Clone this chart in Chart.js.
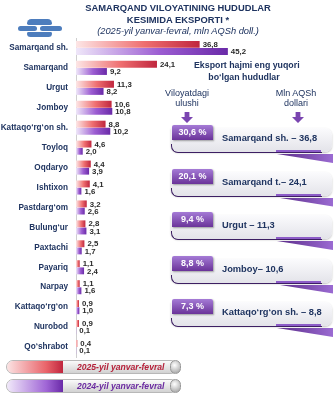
<!DOCTYPE html>
<html>
<head>
<meta charset="utf-8">
<script src="https://cdn.jsdelivr.net/npm/chart.js@4.4.0/dist/chart.umd.min.js"></script>
<style>
  body { margin: 0; background: #fff; font-family: "Liberation Sans", Arial, sans-serif; }
  #wrap { position: relative; width: 335px; height: 397px; overflow: hidden; }
  #chart { position: absolute; left: 0; top: 0; }
  .abs { position: absolute; white-space: nowrap; }
  .title { left: 0; width: 356px; text-align: center; font-weight: bold; font-size: 9.4px; color: #1f3460; }
  .sub { left: 0; width: 356px; text-align: center; font-style: italic; font-size: 9.3px; color: #1f3460; }
  .hdr { font-size: 9px; color: #1f3460; text-align: center; width: 80px; line-height: 10px; }
  .arrow { width: 12px; height: 11px; background: #7a45b0;
    clip-path: polygon(30% 0, 70% 0, 70% 45%, 100% 45%, 50% 100%, 0 45%, 30% 45%); }
  .panel { left: 171px; width: 161px; height: 24px; border-radius: 0 7px 7px 7px;
    background: linear-gradient(#fbfbfd, #e3e3e9); box-shadow: 0 1px 2px rgba(0,0,0,.25); }
  .line { left: 171px; width: 150px; height: 8px; border-left: 1.5px solid #3d1f63;
    border-bottom: 1.5px solid #3d1f63; border-bottom-left-radius: 7px; }
  .uline { left: 276px; width: 45px; height: 2px; background: #8d5cc8; }
  .wedge { left: 277px; width: 56px; height: 9px; background: linear-gradient(to right, #5a2b88, #9b6bd2);
    clip-path: polygon(0 0, 100% 0, 100% 100%); }
  .badge { left: 172px; width: 41px; height: 15px; line-height: 15px; text-align: center; color: #fff;
    font-weight: bold; font-size: 9px; border-radius: 2px 2px 0 0;
    background: linear-gradient(#a57bd6, #6a3399); box-shadow: 1px 1px 2px rgba(0,0,0,.35); }
  .btxt { left: 222px; font-weight: bold; font-size: 9.3px; color: #1f3460; line-height: 10px; }
  .pill { left: 6px; width: 170px; height: 12px; border-radius: 7px; border: 1px solid #b8b8b8;
    background: linear-gradient(#fafafa, #d2d2d2); }
  .pillc { left: 7px; width: 56px; height: 12px; border-radius: 7px 0 0 7px; }
  .knob { width: 9px; height: 12px; border-radius: 6px; background: radial-gradient(circle at 40% 35%, #fff, #9a9a9a);
    border: 1px solid #999; }
  .ltxt { left: 77px; font-style: italic; font-weight: bold; font-size: 8.6px; line-height: 12px; }
</style>
</head>
<body>
<div id="wrap">
  <canvas id="chart" width="335" height="397"></canvas>
</div>
<script>
const regions = ['Samarqand sh.', 'Samarqand', 'Urgut', 'Jomboy', 'Kattaqo‘rg‘on sh.', 'Toyloq', 'Oqdaryo',
  'Ishtixon', 'Pastdarg‘om', 'Bulung‘ur', 'Paxtachi', 'Payariq', 'Narpay', 'Kattaqo‘rg‘on', 'Nurobod', 'Qo‘shrabot'];
const export2025 = [36.8, 24.1, 11.3, 10.6, 8.8, 4.6, 4.4, 4.1, 3.2, 2.8, 2.5, 1.1, 1.1, 0.9, 0.9, 0.4];
const export2024 = [45.2, 9.2, 8.2, 10.8, 10.2, 2.0, 3.9, 1.6, 2.6, 3.1, 1.7, 2.4, 1.6, 1.0, 0.1, 0.1];
const seriesNames = ['2025-yil yanvar-fevral', '2024-yil yanvar-fevral'];

const topShares = ['30,6 %', '20,1 %', '9,4 %', '8,8 %', '7,3 %'];
const topLabels = ['Samarqand sh. – 36,8', 'Samarqand t.– 24,1', 'Urgut – 11,3', 'Jomboy– 10,6', 'Kattaqo‘rg‘on sh. – 8,8'];

const titleLines = ['SAMARQAND VILOYATINING HUDUDLAR', 'KESIMIDA EKSPORTI *'];
const subTitle = '(2025-yil yanvar-fevral, mln AQSh doll.)';

const wrap = document.getElementById('wrap');

function add(cls, style, text) {
  const d = document.createElement('div');
  d.className = 'abs ' + cls;
  Object.assign(d.style, style);
  if (text !== undefined) d.textContent = text;
  wrap.appendChild(d);
  return d;
}

// bar gradients, light at the axis, dark at the bar end
function barGradient(light, mid, dark) {
  return function (ctx) {
    const chart = ctx.chart;
    const area = chart.chartArea;
    if (!area || ctx.raw === undefined) return dark;
    const x0 = area.left;
    const x1 = Math.max(chart.scales.x.getPixelForValue(ctx.raw), x0 + 2);
    const g = chart.ctx.createLinearGradient(x0, 0, x1, 0);
    g.addColorStop(0, light);
    g.addColorStop(0.55, mid);
    g.addColorStop(1, dark);
    return g;
  };
}

const valueLabels = {
  id: 'valueLabels',
  afterDatasetsDraw(chart) {
    const ctx = chart.ctx;
    ctx.save();
    ctx.font = 'bold 7.8px "Liberation Sans", Arial, sans-serif';
    ctx.fillStyle = '#2a2a2a';
    ctx.textBaseline = 'middle';
    chart.data.datasets.forEach((ds, i) => {
      chart.getDatasetMeta(i).data.forEach((bar, j) => {
        const txt = ds.data[j].toFixed(1).replace('.', ',');
        ctx.fillText(txt, bar.x + 3, bar.y + 0.5);
      });
    });
    ctx.restore();
  }
};

new Chart(document.getElementById('chart').getContext('2d'), {
  type: 'bar',
  data: {
    labels: regions,
    datasets: [
      {
        label: seriesNames[0],
        data: export2025,
        backgroundColor: barGradient('#fde6e6', '#ef6f70', '#c0263e'),
        barPercentage: 0.96,
        categoryPercentage: 0.72
      },
      {
        label: seriesNames[1],
        data: export2024,
        backgroundColor: barGradient('#efe7f9', '#9c5dd2', '#6a2aa8'),
        barPercentage: 0.96,
        categoryPercentage: 0.72
      }
    ]
  },
  options: {
    indexAxis: 'y',
    responsive: false,
    animation: false,
    layout: { padding: { top: 38, bottom: 40, left: 0, right: 91 } },
    plugins: {
      legend: { display: false },
      tooltip: { enabled: false }
    },
    scales: {
      x: { display: false, min: 0, max: 50 },
      y: {
        afterFit: s => { s.width = 76; },
        grid: { display: false, drawTicks: false },
        border: { display: true, color: '#cfcfcf', width: 1 },
        ticks: {
          padding: 8,
          color: '#1f3460',
          font: { family: '"Liberation Sans", Arial, sans-serif', size: 8.2, weight: 'bold' }
        }
      }
    }
  },
  plugins: [valueLabels]
});

// header
add('logo', { left: '27px', top: '19px', width: '25px', height: '6px', borderRadius: '5px 5px 2px 2px', background: '#4d7dbd' });
add('logo', { left: '18px', top: '26px', width: '19px', height: '5px', borderRadius: '4px', background: '#4d7dbd' });
add('logo', { left: '40px', top: '26px', width: '22px', height: '5px', borderRadius: '4px', background: '#4d7dbd' });
add('logo', { left: '27px', top: '32px', width: '25px', height: '5px', borderRadius: '2px 2px 5px 5px', background: '#4d7dbd' });
titleLines.forEach((t, i) => add('title', { top: (2 + i * 12) + 'px' }, t));
add('sub', { top: '26px' }, subTitle);

// right panel
add('title', { left: '194px', width: '100px', top: '59px', lineHeight: '12px', fontSize: '8.8px' }, 'Eksport hajmi eng yuqori');
add('title', { left: '194px', width: '100px', top: '71px', lineHeight: '12px', fontSize: '8.8px' }, 'bo‘lgan hududlar');
add('hdr', { left: '147px', top: '88px' }, 'Viloyatdagi');
add('hdr', { left: '147px', top: '98px' }, 'ulushi');
add('hdr', { left: '256px', top: '88px' }, 'Mln AQSh');
add('hdr', { left: '256px', top: '98px' }, 'dollari');
add('arrow', { left: '181px', top: '112px' });
add('arrow', { left: '292px', top: '112px' });

topShares.forEach((share, i) => {
  const T = 125 + i * 43.5;
  add('panel', { top: (T + 3) + 'px' });
  add('line', { top: (T + 19) + 'px' });
  add('uline', { top: (T + 25) + 'px' });
  add('wedge', { top: (T + 29) + 'px' });
  add('badge', { top: T + 'px' }, share);
  add('btxt', { top: (T + 8) + 'px' }, topLabels[i]);
});

// legend pills
const legendColors = [
  ['linear-gradient(to right, #fbe3e3, #e9646a 70%, #c0263e)', '#b5213a'],
  ['linear-gradient(to right, #f1e9fa, #a066d6 70%, #6a2aa8)', '#6a2aa0']
];
seriesNames.forEach((name, i) => {
  const top = 360 + i * 19;
  add('pill', { top: top + 'px' });
  add('pillc', { top: (top + 1) + 'px', background: legendColors[i][0] });
  add('knob', { left: '170px', top: top + 'px' });
  add('ltxt', { top: (top + 1) + 'px', color: legendColors[i][1] }, name);
});
</script>
</body>
</html>
